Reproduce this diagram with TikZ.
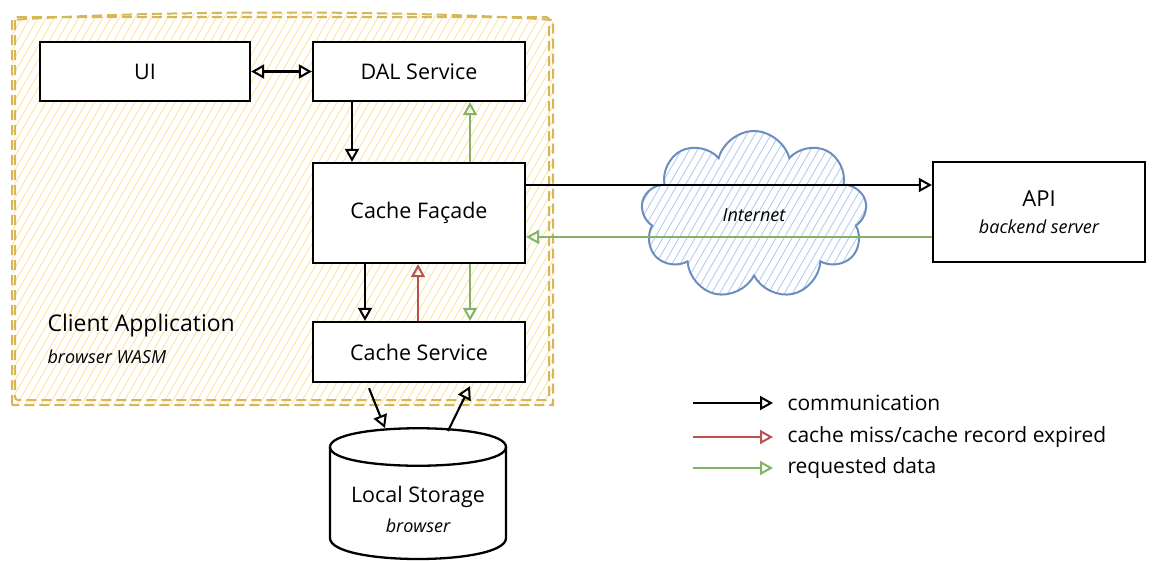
\documentclass[tikz,border=0pt]{standalone}
\usepackage{fontspec}
\setmainfont{Open Sans}
\usetikzlibrary{arrows.meta,patterns.meta,shapes.symbols}
\definecolor{appline}{HTML}{D6B656}
\definecolor{apphatch}{HTML}{FCE5A0}
\definecolor{netline}{HTML}{6C8EBF}
\definecolor{nethatch}{HTML}{B0C8EC}
\definecolor{missred}{HTML}{B85450}
\definecolor{datagreen}{HTML}{82B366}
\begin{document}
\begin{tikzpicture}[x=1pt,y=-1pt]
        \fill[white] (0,0) rectangle (1156,560);
        \useasboundingbox (0,0) rectangle (1156,560);
        \tikzstyle{block}=[draw, line width=2.3pt, fill=white, minimum width=212pt, font=\fontsize{21.5}{24}\selectfont]
        \tikzstyle{comm}=[line width=2.1pt, -{Triangle[open,length=13pt,width=14pt,line width=2pt]}]
        \tikzstyle{miss}=[comm, draw=missred]
        \tikzstyle{data}=[comm, draw=datagreen]
        \tikzstyle{legend}=[anchor=west, font=\fontsize{21}{24}\selectfont]
        \fill[pattern={Lines[angle=60,distance=7pt,line width=0.9pt]}, pattern color=apphatch]
            (12,405) -- (12,20) .. controls (150,10) and (415,10) .. (553,20) -- (553,405) -- cycle;
        \draw[appline, line width=2pt, dash pattern=on 10pt off 5pt]
            (12,405) -- (12,20) .. controls (150,10) and (415,10) .. (553,20) -- (553,405) -- cycle;
        \draw[appline, line width=2pt, dash pattern=on 10pt off 5pt, rounded corners=3pt]
            (15,17) rectangle (549,400);
        \node[anchor=west, font=\fontsize{23}{26}\selectfont] (client) at (44,326) {Client Application};
        \node[anchor=west, font=\fontsize{18}{21}\selectfont\itshape] (wasm) at (44,357) {browser WASM};
        \node[block, minimum width=210pt, minimum height=59pt] (ui)       at (145, 71.5) {UI};
        \node[block, minimum height=59pt]                     (dal)      at (419, 71.5) {DAL Service};
        \node[block, minimum height=100pt]                    (facade)   at (419, 213)  {Cache Façade};
        \node[block, minimum height=60pt]                     (cachesvc) at (419, 352)  {Cache Service};
        \node[block, minimum height=100pt, align=center]      (api)      at (1039, 212)
            {\fontsize{22}{25}\selectfont API\\[3pt]{\fontsize{18}{21}\selectfont\itshape backend server}};
        \node[cloud, cloud puffs=9, cloud ignores aspect, draw=netline, line width=2pt,
              pattern={Lines[angle=60,distance=7pt,line width=0.8pt]}, pattern color=nethatch,
              minimum width=226pt, minimum height=168pt, font=\fontsize{18}{21}\selectfont\itshape]
              (net) at (754, 215) {Internet};
        \draw[line width=2.3pt] (330,447) .. controls (330,422) and (506,422) .. (506,447)
            .. controls (506,472) and (330,472) .. (330,447) -- cycle;
        \draw[line width=2.3pt] (330,447) -- (330,538) .. controls (330,566) and (506,566) .. (506,538) -- (506,447);
        \node[font=\fontsize{21.5}{24}\selectfont] (store) at (418, 497) {Local Storage};
        \node[font=\fontsize{18}{21}\selectfont\itshape] (storesub) at (418, 526) {browser};
        \coordinate (storein)  at (385, 428);
        \coordinate (storeout) at (448, 431);
        \draw[line width=2.1pt, {Triangle[open,length=13pt,width=14pt,line width=2pt]}-{Triangle[open,length=13pt,width=14pt,line width=2pt]}] (ui) -- (dal);
        \draw[comm] ([xshift=-67pt]dal.south) -- ([xshift=-67pt]facade.north);
        \draw[data] ([xshift=51pt]facade.north) -- ([xshift=51pt]dal.south);
        \draw[comm] ([xshift=-54pt]facade.south) -- ([xshift=-54pt]cachesvc.north);
        \draw[miss] ([xshift=-1pt]cachesvc.north) -- ([xshift=-1pt]facade.south);
        \draw[data] ([xshift=51pt]facade.south) -- ([xshift=51pt]cachesvc.north);
        \draw[comm] ([yshift=28pt]facade.east) -- ([yshift=27pt]api.west);
        \draw[data] ([yshift=-25pt]api.west) -- ([yshift=-24pt]facade.east);
        \draw[comm] ([xshift=-50pt,yshift=-5pt]cachesvc.south) -- (storein);
        \draw[comm] (storeout) -- ([xshift=51pt,yshift=-3pt]cachesvc.south);
        \coordinate (comma) at (693, 403);
        \coordinate (commb) at (773, 403);
        \coordinate (missa) at (693, 437);
        \coordinate (missb) at (773, 437);
        \coordinate (dataa) at (693, 468);
        \coordinate (datab) at (773, 468);
        \draw[comm] (comma) -- (commb);
        \draw[miss] (missa) -- (missb);
        \draw[data] (dataa) -- (datab);
        \node[legend] (commtext) at (784, 403) {communication};
        \node[legend] (misstext) at (784, 437) {cache miss/cache record expired};
        \node[legend] (datatext) at (784, 468) {requested data};
    \end{tikzpicture}
\end{document}
